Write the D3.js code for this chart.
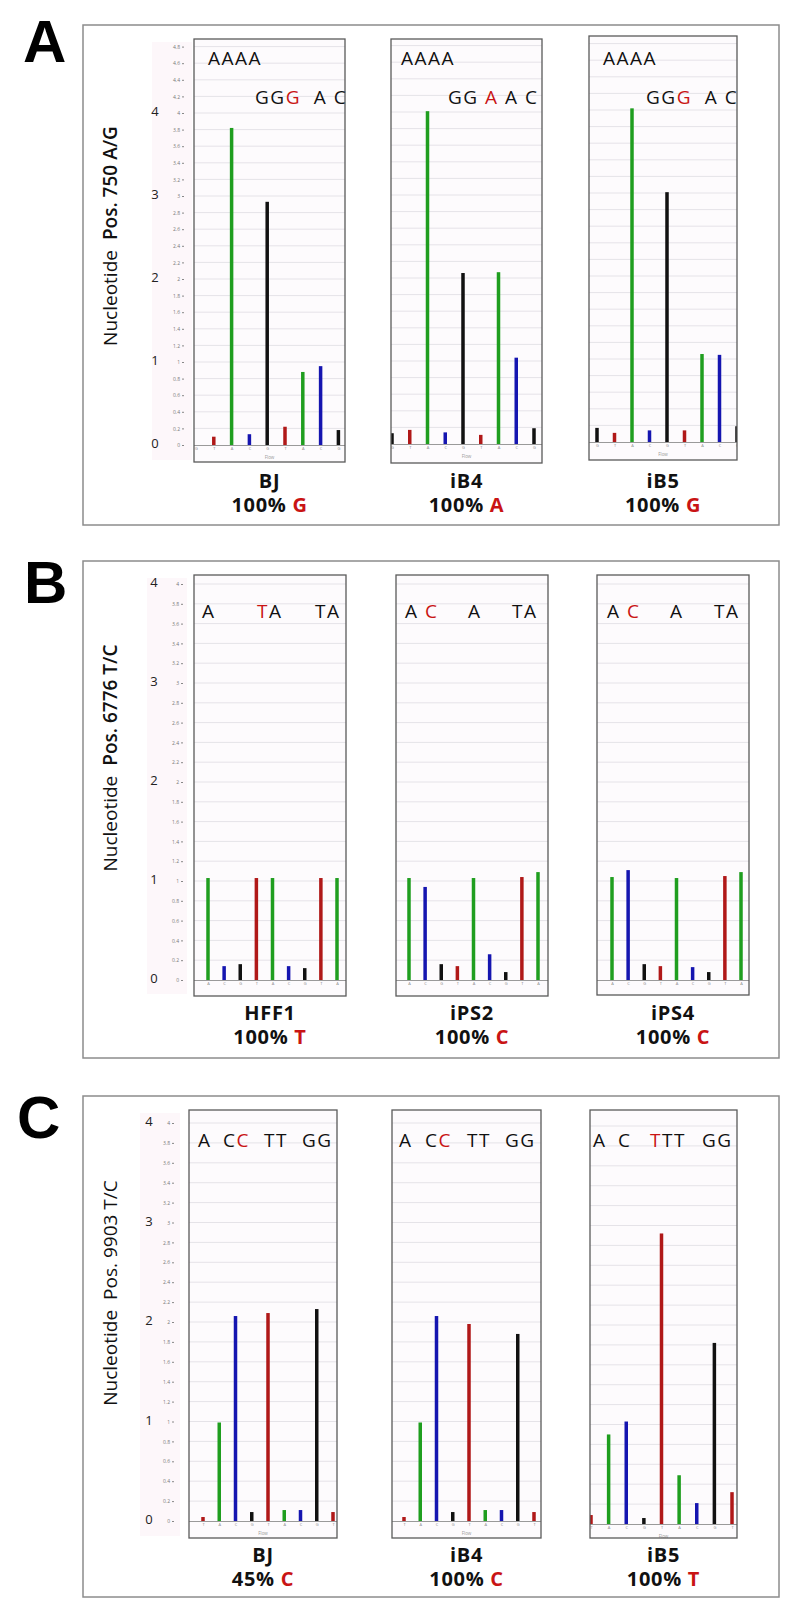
<!DOCTYPE html>
<html><head><meta charset="utf-8">
<script src="https://cdn.jsdelivr.net/npm/d3@7"></script>
<style>body{margin:0;background:#fff} text{font-family:"Open Sans",sans-serif}</style>
</head><body>
<svg id="c" width="800" height="1619"></svg>
<script>
// ---------------- DATA ----------------
const flowsA = ["G","T","A","C","G","T","A","C","G"];
const flowsB = ["A","C","G","T","A","C","G","T","A"];
const flowsC = ["T","A","C","G","T","A","C","G","T"];

const samplesA = ["BJ","iB4","iB5"];
const samplesB = ["HFF1","iPS2","iPS4"];
const samplesC = ["BJ","iB4","iB5"];

const valuesA_BJ  = [0.00, 0.10, 3.82, 0.13, 2.93, 0.22, 0.88, 0.95, 0.18];
const valuesA_iB4 = [0.13, 0.17, 4.01, 0.14, 2.06, 0.11, 2.07, 1.04, 0.19];
const valuesA_iB5 = [0.17, 0.11, 4.02, 0.14, 3.01, 0.14, 1.06, 1.05, 0.19];

const valuesB_HFF1 = [1.03, 0.14, 0.16, 1.03, 1.03, 0.14, 0.12, 1.03, 1.03];
const valuesB_iPS2 = [1.03, 0.94, 0.16, 0.14, 1.03, 0.26, 0.08, 1.04, 1.09];
const valuesB_iPS4 = [1.04, 1.11, 0.16, 0.14, 1.03, 0.13, 0.08, 1.05, 1.09];

const valuesC_BJ  = [0.04, 0.99, 2.06, 0.09, 2.09, 0.11, 0.11, 2.13, 0.09];
const valuesC_iB4 = [0.04, 0.99, 2.06, 0.09, 1.98, 0.11, 0.11, 1.88, 0.09];
const valuesC_iB5 = [0.09, 0.90, 1.03, 0.06, 2.92, 0.49, 0.21, 1.82, 0.32];

const callsA = [["100% ","G"],["100% ","A"],["100% ","G"]];
const callsB = [["100% ","T"],["100% ","C"],["100% ","C"]];
const callsC = [["45% ","C"],["100% ","C"],["100% ","T"]];

const yTitleA = ["Nucleotide", "Pos. 750 A/G"];
const yTitleB = ["Nucleotide", "Pos. 6776 T/C"];
const yTitleC = ["Nucleotide", "Pos. 9903 T/C"];

const smallTicksA = [0,0.2,0.4,0.6,0.8,1,1.2,1.4,1.6,1.8,2,2.2,2.4,2.6,2.8,3,3.2,3.4,3.6,3.8,4,4.2,4.4,4.6,4.8];
const smallTicksBC = [0,0.2,0.4,0.6,0.8,1,1.2,1.4,1.6,1.8,2,2.2,2.4,2.6,2.8,3,3.2,3.4,3.6,3.8,4];
const bigTicks = [0,1,2,3,4];

// header sequence texts: groups of [text, isRed] segments
const headerA = [
  [[["AAAA",0]], [["GG",0],["G",1],["  A C",0]]],
  [[["AAAA",0]], [["GG ",0],["A",1],[" A C",0]]],
  [[["AAAA",0]], [["GG",0],["G",1],["  A C",0]]]
];
const headerB = [
  [[["A",0]], [["T",1],["A",0]], [["TA",0]]],
  [[["A ",0],["C",1]], [["A",0]], [["TA",0]]],
  [[["A ",0],["C",1]], [["A",0]], [["TA",0]]]
];
const headerC = [
  [[["A",0]], [["C",0],["C",1]], [["TT",0]], [["GG",0]]],
  [[["A",0]], [["C",0],["C",1]], [["TT",0]], [["GG",0]]],
  [[["A",0]], [["C",0]], [["T",1],["TT",0]], [["GG",0]]]
];

// ---------------- LAYOUT ----------------
const panels = [
  { letter:"A", letterPos:[23,62], outer:[83,25,779,525], unit:83, flows:flowsA,
    samples:samplesA, values:[valuesA_BJ,valuesA_iB4,valuesA_iB5], calls:callsA,
    title:yTitleA, titleBold:true, titleY:236, smallTicks:smallTicksA, showFlow:true,
    axisX:184, bigX:155, strip:[152,192], labelY:[488,512], header:headerA,
    subs:[
      {box:[194,39,345,462], zero:445, xr:[196,338.4], hp:[[208,65],[255,104]]},
      {box:[391,39,542,463], zero:444, xr:[392,534],   hp:[[401,65],[448,104]]},
      {box:[589,36,737,460], zero:442, xr:[597,737],   hp:[[603,65],[646,104]]}
    ]},
  { letter:"B", letterPos:[24,603], outer:[83,561,779,1058], unit:99, flows:flowsB,
    samples:samplesB, values:[valuesB_HFF1,valuesB_iPS2,valuesB_iPS4], calls:callsB,
    title:yTitleB, titleBold:true, titleY:758, smallTicks:smallTicksBC, showFlow:false,
    axisX:183, bigX:154, strip:[147,187], labelY:[1020,1044], header:headerB,
    subs:[
      {box:[194,575,346,996], zero:980, xr:[208,337], hp:[[202,618],[257,618],[315,618]]},
      {box:[396,575,548,996], zero:980, xr:[409,538], hp:[[405,618],[468,618],[512,618]]},
      {box:[597,575,749,995], zero:980, xr:[612,741], hp:[[607,618],[670,618],[714,618]]}
    ]},
  { letter:"C", letterPos:[17,1138], outer:[83,1096,779,1597], unit:99.5, flows:flowsC,
    samples:samplesC, values:[valuesC_BJ,valuesC_iB4,valuesC_iB5], calls:callsC,
    title:yTitleC, titleBold:false, titleY:1293, smallTicks:smallTicksBC, showFlow:true,
    axisX:174, bigX:149, strip:[140,180], labelY:[1562,1586], header:headerC,
    subs:[
      {box:[189,1110,337,1538], zero:1521, xr:[203,333], hp:[[198,1147],[223,1147],[264,1147],[302,1147]]},
      {box:[392,1110,541,1538], zero:1521, xr:[404,534], hp:[[399,1147],[425,1147],[467,1147],[505,1147]]},
      {box:[590,1110,737,1538], zero:1524, xr:[591,732], hp:[[593,1147],[618,1147],[650,1147],[702,1147]]}
    ]}
];

const colorOf = {A:"#1f9e1f", C:"#1515b0", G:"#111111", T:"#b01818"};
const RED = "#c91414";

// ---------------- DRAW ----------------
const svg = d3.select("#c");
let clipId = 0;

panels.forEach(p => {
  const [ox1, oy1, ox2, oy2] = p.outer;
  svg.append("rect").attr("x", ox1).attr("y", oy1).attr("width", ox2-ox1).attr("height", oy2-oy1)
    .attr("fill", "#fff").attr("stroke", "#8c8c8c").attr("stroke-width", 1.5);

  svg.append("text").attr("x", p.letterPos[0]).attr("y", p.letterPos[1])
    .style("font-family", "'Liberation Sans', Arial, sans-serif")
    .style("font-weight", "900").style("font-size", "60px").attr("fill", "#000").text(p.letter);

  // y title
  const t = svg.append("text").attr("transform", `translate(112,${p.titleY}) rotate(-90)`)
    .attr("text-anchor", "middle").attr("dominant-baseline", "middle")
    .style("font-size", "19px").attr("fill", "#111");
  t.append("tspan").text(p.title[0]);
  t.append("tspan").attr("dx", 10).style("font-weight", p.titleBold ? "600" : "400").text(p.title[1]);

  p.subs.forEach((s, i) => {
    const [bx1, by1, bx2, by2] = s.box;
    const y = d3.scaleLinear().domain([0, 4]).range([s.zero, s.zero - 4*p.unit]);
    const x = d3.scaleLinear().domain([0, p.flows.length-1]).range(s.xr);
    const vals = p.values[i];

    if (i === 0) {
      svg.append("rect").attr("x", p.strip[0]).attr("y", by1+3).attr("width", p.strip[1]-p.strip[0])
        .attr("height", by2-by1-5).attr("fill", "#fdf7fa");
      const ax = svg.append("g").attr("transform", `translate(${p.axisX},0)`)
        .call(d3.axisLeft(y).tickValues(p.smallTicks).tickSize(2).tickPadding(2).tickFormat(d3.format("~g")));
      ax.select(".domain").remove();
      ax.selectAll("text").style("font-size", "5px").attr("fill", "#777");
      ax.selectAll("line").attr("stroke", "#888");
      svg.append("g").selectAll("text").data(bigTicks).join("text")
        .attr("x", p.bigX).attr("y", d => y(d)).attr("text-anchor", "middle")
        .attr("dominant-baseline", "middle").style("font-size", "13px").attr("fill", "#222").text(d => d);
    }

    // box background
    svg.append("rect").attr("x", bx1).attr("y", by1).attr("width", bx2-bx1).attr("height", by2-by1)
      .attr("fill", "#fdfbfd");
    const cid = "clip" + (clipId++);
    svg.append("clipPath").attr("id", cid).append("rect")
      .attr("x", bx1).attr("y", by1).attr("width", bx2-bx1).attr("height", by2-by1);
    const g = svg.append("g").attr("clip-path", `url(#${cid})`);

    // gridlines
    g.selectAll("line.grid").data(p.smallTicks.filter(d => d > 0 && y(d) > by1)).join("line")
      .attr("x1", bx1).attr("x2", bx2).attr("y1", d => y(d)).attr("y2", d => y(d))
      .attr("stroke", "#e5e3e8").attr("stroke-width", 1);
    // baseline
    g.append("line").attr("x1", bx1).attr("x2", bx2).attr("y1", y(0)+0.5).attr("y2", y(0)+0.5)
      .attr("stroke", "#9a9a9a").attr("stroke-width", 1);

    // bars
    g.selectAll("rect.bar").data(vals.map((v, k) => ({v, k}))).join("rect")
      .attr("x", d => x(d.k) - 1.75).attr("width", 3.5)
      .attr("y", d => y(d.v)).attr("height", d => y(0) - y(d.v))
      .attr("fill", d => colorOf[p.flows[d.k]]);

    // flow tick labels
    const xa = g.append("g").attr("transform", `translate(0,${y(0)+1})`)
      .call(d3.axisBottom(x).tickValues(d3.range(p.flows.length)).tickSize(0).tickPadding(1)
        .tickFormat(k => p.flows[k]));
    xa.select(".domain").remove();
    xa.selectAll("text").style("font-size", "4px").attr("fill", "#888");
    if (p.showFlow) {
      g.append("text").attr("x", (bx1+bx2)/2).attr("y", y(0)+14).attr("text-anchor", "middle")
        .style("font-size", "4.5px").attr("fill", "#999").text("Flow");
    }

    // box border
    svg.append("rect").attr("x", bx1).attr("y", by1).attr("width", bx2-bx1).attr("height", by2-by1)
      .attr("fill", "none").attr("stroke", "#5a5a5a").attr("stroke-width", 1.3);

    // header sequence letters
    p.header[i].forEach((grp, gi) => {
      const ht = svg.append("text").attr("x", s.hp[gi][0]).attr("y", s.hp[gi][1])
        .style("font-size", "19px").style("letter-spacing", "1.5px").style("white-space", "pre");
      grp.forEach(seg => ht.append("tspan").attr("fill", seg[1] ? RED : "#111").text(seg[0]));
    });

    // sample label
    const cx = (bx1+bx2)/2;
    svg.append("text").attr("x", cx).attr("y", p.labelY[0]).attr("text-anchor", "middle")
      .style("font-size", "20px").style("font-weight", "700").style("letter-spacing", "0.7px")
      .attr("fill", "#111").text(p.samples[i]);
    const ct = svg.append("text").attr("x", cx).attr("y", p.labelY[1]).attr("text-anchor", "middle")
      .style("font-size", "20px").style("font-weight", "700").style("letter-spacing", "0.7px")
      .style("white-space", "pre");
    ct.append("tspan").attr("fill", "#111").text(p.calls[i][0]);
    ct.append("tspan").attr("fill", RED).text(p.calls[i][1]);
  });
});
</script>
</body></html>
